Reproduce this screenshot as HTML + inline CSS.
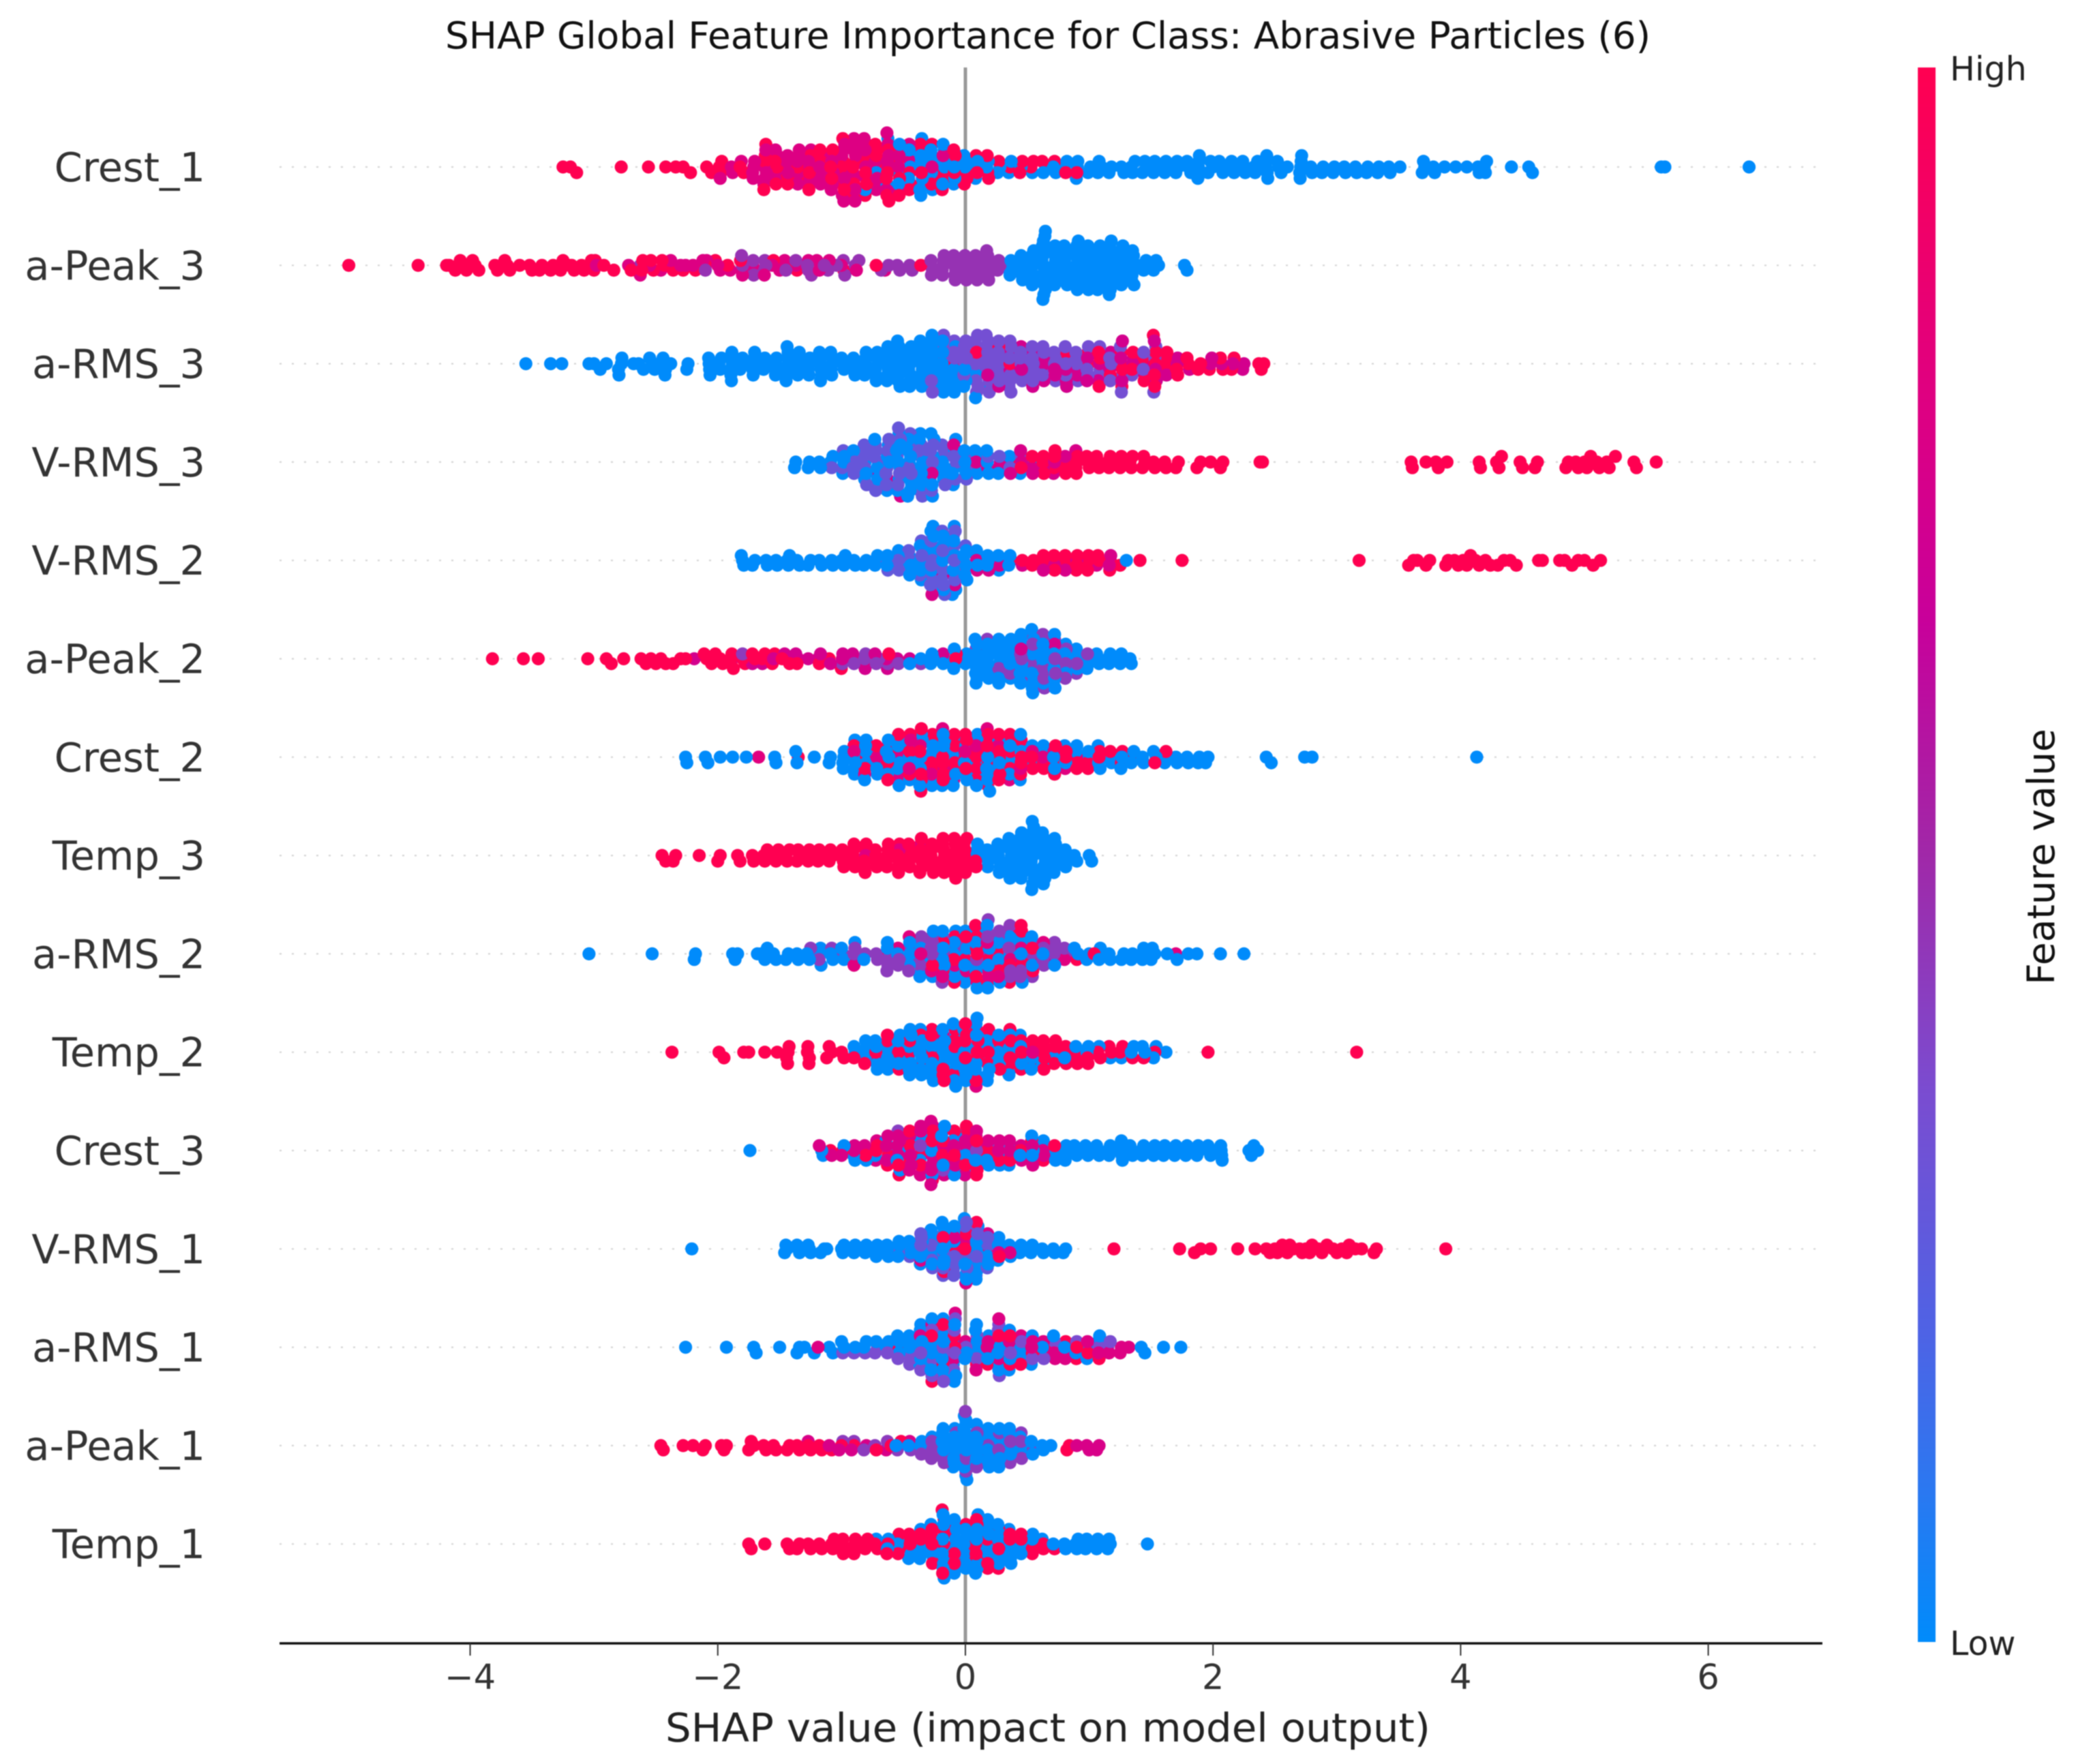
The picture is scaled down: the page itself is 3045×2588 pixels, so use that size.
<!DOCTYPE html>
<html lang="en">
<head>
<meta charset="utf-8">
<title>SHAP Global Feature Importance for Class: Abrasive Particles (6)</title>
<style>
html,body{margin:0;padding:0;background:#fff;width:3045px;height:2588px;overflow:hidden}
svg{display:block;filter:blur(0.9px)}
text{font-family:"DejaVu Sans","Liberation Sans",sans-serif}
</style>
</head>
<body>
<svg id="chart" xmlns="http://www.w3.org/2000/svg" width="3045" height="2588" viewBox="0 0 3045 2588">
  <rect width="3045" height="2588" fill="#fff"/>
  <defs>
    <linearGradient id="cbGrad" x1="0" y1="1" x2="0" y2="0"></linearGradient>
  </defs>
  <text x="1537" y="71" font-size="54" fill="#111" text-anchor="middle" textLength="1768" lengthAdjust="spacingAndGlyphs">SHAP Global Feature Importance for Class: Abrasive Particles (6)</text>
  <g id="rowLines"></g>
  <line x1="1416" y1="99" x2="1416" y2="2411" stroke="#999" stroke-width="5"/>
  <g id="dots"></g>
  <g id="yLabels"></g>
  <line x1="410" y1="2411" x2="2673" y2="2411" stroke="#111" stroke-width="3.5"/>
  <g id="xTicks"></g>
  <text x="1537" y="2555" font-size="58" fill="#222" text-anchor="middle" textLength="1122" lengthAdjust="spacingAndGlyphs">SHAP value (impact on model output)</text>
  <rect x="2813" y="99" width="26" height="2310" fill="url(#cbGrad)"/>
  <text x="2860" y="118" font-size="49" fill="#222">High</text>
  <text x="2860" y="2428" font-size="49" fill="#222">Low</text>
  <text transform="translate(3013,1257) rotate(-90)" font-size="55" fill="#111" text-anchor="middle">Feature value</text>
</svg>
<script>
const features=["Crest_1","a-Peak_3","a-RMS_3","V-RMS_3","V-RMS_2","a-Peak_2","Crest_2","Temp_3","a-RMS_2","Temp_2","Crest_3","V-RMS_1","a-RMS_1","a-Peak_1","Temp_1"];
const xTickValues=[-4,-2,0,2,4,6];
const colorStopValues=[0,.1,.2,.35,.5,.65,.8,.9,1];
const colorStopColors=["#008bfb","#2c77f0","#4f62e4","#7a4cd0","#a028a8","#c8009a","#e0007f","#f00068","#ff0051"];
const levels=[[1,.78,.45,0],[1,.78,.46,0],[1,.72,.33,0],[1,.75,.28,0],[1,.75,.27,0],[1,.72,.42,0],[1,.8,.45,0],[1,.8,.45,0],[1,.8,.42,0],[1,.8,.4,0],[1,.76,.4,0],[1,.78,.28,0],[1,.78,.35,0],[1,.75,.42,0],[1,.8,.4,0]];

const crest1High=[-3.25,-3.19,-3.14,-2.78,-2.56,-2.42,-2.34,-2.28,-2.22,-2.09,-2.05,-2,-1.97,-1.95,-1.82,-1.79,-1.64,-1.62,-1.61,-1.6,-1.55,-1.53,-1.51,-1.45,-1.43,-1.36,-1.34,-1.27,-1.26,-1.24,-1.18,-1.16,-1.15,-1.1,-1.08,-1.06,-1.02,-1,-.99,-.98,-.96,-.92,-.9,-.89,-.87,-.83,-.81,-.8,-.78,-.74,-.72,-.71,-.69,-.65,-.64,-.63,-.62,-.6,-.56,-.55,-.53,-.52,-.46,-.45,-.43,-.37,-.35,-.28,-.27,-.25,-.2,-.18,-.16,-.1,-.09,-.07,-.02,0,.03,.08,.1,.17,.18,.2,.27,.36,.44,.46,.53,.55,.62,.65,.72,.81,.9];
const crest1Upper=[-1.98,-1.89,-1.88,-1.81,-1.73,-1.72,-1.71,-1.69,-1.64,-1.63,-1.62,-1.6,-1.59,-1.55,-1.54,-1.53,-1.5,-1.46,-1.45,-1.43,-1.42,-1.37,-1.36,-1.35,-1.34,-1.33,-1.28,-1.27,-1.25,-1.24,-1.23,-1.19,-1.18,-1.17,-1.14,-1.1,-1.09,-1.08,-1.07,-1.05,-1.01,-1,-.99,-.98,-.97,-.96,-.95,-.92,-.91,-.9,-.89,-.88,-.88,-.87,-.86,-.83,-.82,-.81,-.8,-.79,-.78,-.74,-.73,-.72,-.7,-.65,-.64,-.63,-.62,-.61,-.6,-.56,-.54,-.53,-.46,-.44,-.36,-.27,-.18];
const crest1Lower=[];
const crest1Low=[-.81,-.72,-.64,-.62,-.55,-.54,-.52,-.47,-.46,-.44,-.43,-.38,-.37,-.36,-.36,-.35,-.35,-.34,-.33,-.29,-.28,-.27,-.26,-.25,-.19,-.18,-.17,-.16,-.15,-.11,-.1,-.09,-.08,-.03,-.01,.01,.07,.09,.11,.16,.19,.26,.28,.35,.37,.45,.54,.63,.71,.73,.8,.82,.89,.91,.92,.99,1.01,1.07,1.08,1.1,1.16,1.18,1.26,1.28,1.34,1.35,1.37,1.43,1.45,1.46,1.52,1.53,1.55,1.61,1.62,1.64,1.7,1.71,1.72,1.79,1.8,1.82,1.86,1.87,1.88,1.89,1.91,1.96,1.98,2,2.05,2.07,2.08,2.15,2.16,2.17,2.24,2.25,2.26,2.33,2.34,2.36,2.42,2.43,2.44,2.45,2.46,2.52,2.53,2.55,2.6,2.7,2.71,2.72,2.73,2.74,2.79,2.8,2.88,2.89,2.97,2.98,3.06,3.07,3.15,3.16,3.24,3.25,3.33,3.34,3.42,3.43,3.51,3.69,3.7,3.71,3.78,3.79,3.87,3.96,4.05,4.14,4.15,4.19,4.2,4.21,4.41,4.55,4.58,5.62,5.65,6.33];

const peak3High=[-4.98,-4.42,-4.19,-4.17,-4.12,-4.08,-4.05,-4.03,-3.98,-3.96,-3.93,-3.8,-3.78,-3.72,-3.7,-3.68,-3.6,-3.52,-3.5,-3.44,-3.42,-3.35,-3.33,-3.27,-3.25,-3.2,-3.18,-3.16,-3.1,-3.08,-3.02,-3,-2.99,-2.92,-2.84,-2.7,-2.62,-2.6,-2.54,-2.52,-2.45,-2.43,-2.36,-2.28,-2.18,-2.1,-2.02,-1.92,-1.84,-1.55,-1.45,-1.36,-.97,-.72,-.36];
const peak3Upper=[-2.98,-2.72,-2.65,-2.55,-2.46,-2.38,-2.3,-2.26,-2.2,-2.12,-2.09,-2,-1.98,-1.9,-1.82,-1.8,-1.73,-1.65,-1.63,-1.56,-1.5,-1.46,-1.37,-1.28,-1.2,-1.18,-1.1,-1.02,-.88,-.65];
const peak3Lower=[-2.65,-2.1,-1.82,-1.8,-1.72,-1.71,-1.7,-1.62,-1.6,-1.45,-1.37,-1.3,-1.28,-1.22,-1.14,-1.11,-1.04,-.98,-.95,-.89,-.86,-.68,-.62,-.55,-.53,-.45,-.43,-.3,-.29,-.28,-.26,-.2,-.19,-.18,-.17,-.16,-.11,-.1,-.09,-.08,-.07,-.06,-.02,-.01,0,.01,.02,.03,.07,.08,.09,.1,.11,.12,.16,.17,.18,.18,.19,.2,.21,.26,.27,.28];
const peak3Low=[.35,.36,.37,.38,.43,.44,.45,.46,.47,.48,.52,.53,.54,.54,.55,.55,.56,.57,.6,.61,.62,.62,.63,.63,.64,.64,.65,.65,.66,.66,.67,.67,.67,.7,.71,.71,.72,.72,.73,.73,.74,.75,.78,.79,.8,.8,.81,.81,.82,.83,.84,.87,.88,.89,.89,.9,.9,.91,.91,.92,.92,.93,.96,.97,.98,.98,.99,.99,1,1,1.01,1.02,1.05,1.06,1.07,1.07,1.08,1.08,1.09,1.09,1.1,1.11,1.14,1.15,1.15,1.16,1.16,1.17,1.17,1.18,1.18,1.19,1.19,1.2,1.23,1.24,1.25,1.25,1.26,1.26,1.27,1.28,1.29,1.32,1.33,1.34,1.34,1.35,1.36,1.37,1.38,1.42,1.44,1.46,1.52,1.54,1.56,1.77,1.79];

const rms3High=[-.09,.09,.27,.36,.81,.99,1,1.07,1.08,1.1,1.17,1.25,1.26,1.27,1.28,1.34,1.36,1.43,1.45,1.5,1.52,1.53,1.54,1.55,1.61,1.62,1.63,1.64,1.7,1.72,1.79,1.8,1.88,1.9,1.97,2.06,2.08,2.15,2.17,2.37,2.39,2.41];
const rms3Upper=[.18,.27,.36,.37,.45,.46,.54,.55,.63,.64,.65,.72,.73,.81,.82,.83,.9,.91,.97,.98,1.06,1.09,1.16,1.18,1.25,1.27,1.28,1.35,1.37,1.44,1.46,1.52,1.54,1.56,1.63,1.71,1.72,1.81,1.98,1.99,2.07,2.16,2.24,2.25];
const rms3Lower=[-.28,-.26,-.19,-.18,-.17,-.1,-.09,-.08,-.03,-.02,-.01,0,.01,.02,.06,.07,.08,.09,.09,.1,.11,.11,.12,.15,.16,.17,.18,.18,.19,.2,.21,.21,.25,.26,.27,.27,.28,.28,.29,.34,.35,.36,.36,.37,.38,.38,.43,.44,.45,.46,.47,.52,.53,.54,.54,.55,.56,.61,.62,.63,.64,.71,.72,.73,.74,.79,.8,.81,.81,.88,.89,.9,.92,.97,.99,1,1.07,1.09,1.1,1.16,1.17,1.19,1.24,1.26,1.28,1.34,1.43,1.44,1.51,1.53,1.55];
const rms3Low=[-3.55,-3.35,-3.26,-3.04,-3,-2.95,-2.9,-2.82,-2.81,-2.76,-2.75,-2.68,-2.64,-2.6,-2.55,-2.52,-2.51,-2.47,-2.46,-2.42,-2.41,-2.38,-2.25,-2.24,-2.08,-2.07,-2.06,-2.05,-1.99,-1.98,-1.97,-1.91,-1.9,-1.89,-1.89,-1.88,-1.87,-1.82,-1.8,-1.79,-1.73,-1.72,-1.71,-1.7,-1.69,-1.63,-1.62,-1.61,-1.55,-1.54,-1.53,-1.52,-1.46,-1.45,-1.44,-1.44,-1.43,-1.42,-1.41,-1.37,-1.36,-1.35,-1.34,-1.33,-1.28,-1.27,-1.26,-1.25,-1.19,-1.18,-1.17,-1.17,-1.16,-1.15,-1.1,-1.09,-1.08,-1.07,-1.06,-1,-.99,-.98,-.91,-.9,-.89,-.88,-.83,-.82,-.81,-.8,-.79,-.74,-.73,-.72,-.71,-.7,-.69,-.65,-.64,-.64,-.63,-.62,-.61,-.6,-.56,-.55,-.55,-.54,-.54,-.53,-.53,-.52,-.51,-.47,-.46,-.45,-.45,-.44,-.44,-.43,-.42,-.38,-.37,-.37,-.36,-.36,-.35,-.35,-.34,-.33,-.29,-.29,-.28,-.28,-.27,-.27,-.26,-.26,-.25,-.2,-.2,-.19,-.19,-.18,-.18,-.17,-.17,-.11,-.1,-.1,-.09,-.08,-.07,-.03,-.01,.01,.07,.08,.17];

const vrms3High=[.36,.45,.54,.62,.63,.64,.71,.72,.73,.8,.81,.82,.88,.89,.9,.91,.98,.99,1,1.06,1.07,1.08,1.15,1.16,1.17,1.24,1.25,1.26,1.33,1.34,1.35,1.43,1.44,1.45,1.52,1.53,1.61,1.62,1.7,1.72,1.87,1.9,1.98,2.06,2.08,2.38,2.4,3.6,3.61,3.72,3.8,3.82,3.89,4.15,4.16,4.29,4.31,4.33,4.48,4.5,4.6,4.62,4.85,4.87,4.93,4.95,5,5.02,5.05,5.1,5.12,5.18,5.2,5.25,5.4,5.42,5.58];
const vrms3Upper=[-.72,-.63,-.5,-.27,-.1,.08,.18,.27,.3,.37,.44,.46,.53,.55,.63,.7,.72,.8,.88];
const vrms3Lower=[-1.08,-1,-.98,-.92,-.9,-.89,-.84,-.83,-.82,-.8,-.78,-.76,-.74,-.73,-.72,-.71,-.68,-.66,-.65,-.64,-.62,-.6,-.57,-.55,-.54,-.52,-.5,-.47,-.45,-.44,-.42,-.4,-.38,-.36,-.35,-.33,-.3,-.28,-.26,-.24,-.2,-.18,-.16,-.14,-.1,-.07,-.05,0,.02,.09,.19,.28,.36,.45];
const vrms3Low=[-1.38,-1.37,-1.27,-1.26,-1.18,-1.17,-1.09,-1.07,-.99,-.97,-.96,-.91,-.88,-.82,-.81,-.79,-.75,-.7,-.69,-.64,-.63,-.61,-.59,-.58,-.56,-.55,-.53,-.53,-.51,-.5,-.49,-.48,-.47,-.46,-.45,-.44,-.43,-.41,-.39,-.38,-.37,-.37,-.35,-.34,-.32,-.31,-.29,-.27,-.27,-.26,-.25,-.23,-.19,-.18,-.17,-.15,-.13,-.11,-.09,-.08,-.06,-.03,-.02,-.01,.01,.06,.08,.1,.16,.17,.2,.26,.35,.43,.53];

const vrms2High=[.37,.46,.54,.55,.62,.63,.64,.71,.72,.73,.8,.81,.82,.89,.9,.91,.98,.99,1,1.07,1.08,1.16,1.17,1.25,1.41,1.75,3.18,3.58,3.62,3.65,3.72,3.75,3.88,3.9,3.95,3.98,4.02,4.05,4.08,4.12,4.15,4.2,4.24,4.3,4.35,4.4,4.45,4.63,4.66,4.8,4.84,4.9,4.95,5,5.07,5.13];
const vrms2Upper=[.1,.2,.28,.46,.63,.72,.8,.9,.99,1.06,1.15,1.18,-.27,-.18,-.08,.09];
const vrms2Lower=[-.72,-.62,-.55,-.53,-.47,-.44,-.38,-.35,-.34,-.3,-.28,-.27,-.25,-.22,-.21,-.2,-.18,-.17,-.15,-.12,-.11,-.09,-.08,-.07,-.04,-.02,0,-.19,-.29,-.26,-.1];
const vrms2Low=[-1.81,-1.8,-1.79,-1.72,-1.7,-1.61,-1.6,-1.53,-1.52,-1.44,-1.43,-1.42,-1.36,-1.34,-1.27,-1.25,-1.18,-1.16,-1.08,-1.07,-1,-.98,-.97,-.9,-.89,-.82,-.8,-.73,-.71,-.64,-.63,-.61,-.55,-.54,-.52,-.46,-.45,-.43,-.42,-.37,-.36,-.35,-.33,-.32,-.29,-.28,-.26,-.25,-.24,-.23,-.19,-.19,-.17,-.16,-.14,-.13,-.11,-.1,-.09,-.07,-.06,-.05,-.03,-.01,.01,.02,.03,.08,.09,.11,.17,.18,.19,.26,.27,.28,.35,.36,1.3,-.37,-.28,-.27,-.18,-.09];

const peak2High=[-3.82,-3.57,-3.45,-3.05,-2.9,-2.86,-2.76,-2.62,-2.58,-2.54,-2.5,-2.46,-2.42,-2.36,-2.3,-2.26,-2.11,-2.09,-2.05,-2.02,-1.98,-1.96,-1.9,-1.88,-1.85,-1.8,-1.78,-1.72,-1.7,-1.64,-1.62,-1.56,-1.54,-1.48,-1.42,-1.36,-1.18,-1.1,-1.02,-.9,-.6,-.06,-.05];
const peak2Upper=[-2.19,-1.9,-1.72,-1.64,-1.55,-1.46,-1.37,-1.35,-1.27,-1.19,-1.17,-1.09,-1,-.99,-.91,-.83,-.81,-.73,-.65,-.63,-.55,-.45,-.18,.45,.72];
const peak2Lower=[-1.8,-1,-.9,-.82,-.8,-.72,-.7,-.62,-.54,-.36,.08,.17,.27,.36,.44,.45,.53,.54,.55,.62,.63,.64,.65,.71,.72,.73,.74,.8,.81,.82,.89,.9,.98,.46,.54,.63,.72,.81];
const peak2Low=[-.45,-.36,-.28,-.27,-.26,-.18,-.17,-.1,-.09,-.07,0,.01,.02,.07,.08,.09,.1,.11,.16,.18,.18,.19,.2,.25,.26,.27,.28,.29,.3,.34,.35,.36,.37,.38,.43,.44,.46,.47,.52,.52,.53,.53,.54,.55,.55,.56,.57,.61,.62,.63,.63,.64,.7,.71,.72,.73,.79,.81,.88,.91,.97,.99,1,1.06,1.07,1.08,1.15,1.16,1.17,1.24,1.25,1.26,1.33,1.34,.06,.09,.1,.17,.19,.26,.28,.35,.37,.09,.18,.27,.36,.45,.46,.44,.54,.63,.62,.72,.71,.81,.8,.9,.89];

const crest2High=[-1.35,-.81,-.72,-.63,-.62,-.54,-.53,-.45,-.44,-.36,-.35,-.34,-.27,-.26,-.18,-.17,-.09,-.08,-.07,0,.01,.02,.09,.1,.18,.19,.2,.27,.28,.29,.36,.37,.45,.46,.53,.55,.63,.64,.72,.73,.74,.81,.82,.9,.91,.98,.99,1.08,1.09,1.17,1.26,1.28,1.35,1.53,1.62,-.38,-.35,-.36,-.28,-.26,-.62,.17,.19,.28,.36,.37,.45,.44,.27,.09,.08,0,-.09,-.18,-.19,-.45,-.54,-.81,-.9];
const crest2Upper=[-1.67,-.9,-.82,-.71,-.64,-.55,-.52,-.46,-.43,-.37,-.28,-.19,-.16,-.1,-.01,.08,.17,.21,.26,.35,.44,.54,.62,.71,.8,.89];
const crest2Lower=[];
const crest2Low=[-2.26,-2.25,-2.1,-2.08,-1.98,-1.88,-1.77,-1.54,-1.53,-1.37,-1.36,-1.22,-1.1,-1.09,-.99,-.98,-.97,-.96,-.91,-.89,-.88,-.87,-.8,-.79,-.78,-.73,-.7,-.65,-.61,-.6,-.56,-.53,-.51,-.47,-.45,-.42,-.38,-.36,-.33,-.29,-.28,-.25,-.2,-.18,-.15,-.11,-.09,-.06,-.02,0,.03,.07,.09,.11,.16,.18,.22,.25,.27,.34,.36,.43,.45,.52,.54,.61,.63,.7,.72,.79,.81,.88,.9,.97,1,1.06,1.07,1.1,1.16,1.18,1.25,1.27,1.34,1.36,1.43,1.44,1.52,1.54,1.61,1.63,1.7,1.71,1.79,1.8,1.88,1.89,1.94,1.96,2.43,2.47,2.74,2.8,4.13,-.37,-.35,-.27,-.26,-.63,.18,.2,.35,.36,.46,.44,.28,.1,.09,.01,-.08,-.1,-.17,-.18,-.46,-.55,-.53,-.72,-.71,-.82,-.8,-.89];

const temp3High=[-2.45,-2.42,-2.36,-2.34,-2.15,-2,-1.98,-1.84,-1.82,-1.72,-1.71,-1.63,-1.62,-1.6,-1.54,-1.53,-1.51,-1.45,-1.44,-1.42,-1.36,-1.35,-1.34,-1.27,-1.26,-1.25,-1.19,-1.18,-1.16,-1.1,-1.09,-1.07,-1,-.99,-.98,-.97,-.92,-.91,-.9,-.89,-.88,-.83,-.82,-.81,-.8,-.79,-.74,-.73,-.72,-.71,-.65,-.64,-.63,-.62,-.61,-.56,-.55,-.54,-.53,-.52,-.47,-.46,-.45,-.44,-.43,-.38,-.37,-.36,-.35,-.34,-.33,-.29,-.28,-.27,-.26,-.25,-.24,-.2,-.19,-.18,-.17,-.16,-.15,-.14,-.11,-.1,-.09,-.09,-.08,-.07,-.06,-.05,-.03,-.02,-.01,0,.01,.02,.03,.07,.08];
const temp3Upper=[-.8,-.53,-.36];
const temp3Lower=[];
const temp3Low=[.09,.1,.11,.16,.17,.18,.19,.25,.26,.27,.28,.29,.3,.34,.35,.36,.36,.37,.38,.39,.4,.43,.44,.44,.45,.45,.46,.46,.47,.48,.52,.52,.53,.53,.54,.54,.55,.55,.56,.56,.57,.57,.58,.61,.62,.62,.63,.63,.64,.64,.65,.66,.67,.7,.71,.71,.72,.72,.73,.74,.79,.8,.81,.82,.88,.9,1,1.02];

const rms2High=[-.63,-.26,-.18,-.1,-.08,-.09,0,.01,.07,.09,.18,.2,.27,.35,.36,.44,.46,.53,.55,.9,1.04,.08,.1,.28,-.18,.27,.36,.45,.54,.09];
const rms2Upper=[-.9,-.55,-.46,-.36,-.28,-.19,-.08,.02,.1,.19,.26,.37,.45,.63,.72,.8,1.7,.17,.2];
const rms2Lower=[-1.25,-1.2,-1.08,-.99,-.9,-.88,-.81,-.72,-.71,-.64,-.62,-.55,-.53,-.47,-.45,-.37,-.35,-.29,-.27,-.2,-.17,.16,.17,.25,.28,.34,.36,.43,.45,.52,.54,.62,.64,.71,.73,.8,.81,.18,.19,.09,.26,-.64,-.46,-.37,-.27,-.26,-.18,-.09,0,.36,.37,.44,.53,.63,.72];
const rms2Low=[-3.04,-2.53,-2.19,-2.18,-1.88,-1.86,-1.84,-1.68,-1.65,-1.62,-1.6,-1.55,-1.53,-1.45,-1.43,-1.36,-1.35,-1.28,-1.26,-1.19,-1.17,-1.16,-1.09,-1.07,-1,-.98,-.92,-.88,-.82,-.63,-.56,-.46,-.38,-.34,-.26,-.24,-.19,-.16,-.11,-.07,-.06,-.03,-.01,0,.03,.08,.1,.11,.17,.21,.26,.29,.35,.45,.47,.62,.72,.88,.91,.98,1,1.08,1.09,1.16,1.17,1.26,1.28,1.34,1.35,1.43,1.44,1.45,1.5,1.51,1.53,1.63,1.71,1.8,1.87,2.06,2.25,.18,.19,.07,.09,.27,0,-.01,-.63,-.45,-.44,-.36,-.35,-.27,-.18,-.19,-.09,-.08,.36,.35,.44,.45,.54,.53];

const temp2High=[-2.37,-1.99,-1.95,-1.79,-1.75,-1.62,-1.52,-1.45,-1.43,-1.42,-1.4,-1.3,-1.29,-1.27,-1.26,-1.12,-1.1,-1.08,-1,-.98,-.9,-.82,-.73,-.63,-.53,-.45,-.36,-.28,-.26,-.18,-.16,-.09,-.07,0,.02,.09,.11,.18,.2,.27,.29,.36,.38,.45,.47,.53,.55,.62,.63,.64,.65,.71,.72,.73,.74,.8,.81,.82,.89,.9,.91,.98,.99,1.07,1.09,1.16,1.18,1.25,1.27,1.35,1.44,1.53,1.96,3.16,.1,.12,.08,-.08,-.1,-.27,.19,-.63,-.54,-.45,-.36,-.28,-.18,0,-.01,.27,.36,.37,.45,.46,.54,.63];
const temp2Upper=[-.72,-.18,.08,.55];
const temp2Lower=[];
const temp2Low=[-.9,-.89,-.81,-.8,-.79,-.78,-.74,-.72,-.71,-.7,-.64,-.62,-.61,-.6,-.55,-.54,-.52,-.51,-.47,-.46,-.44,-.43,-.42,-.38,-.37,-.35,-.34,-.33,-.29,-.27,-.25,-.24,-.2,-.19,-.17,-.15,-.11,-.1,-.08,-.06,-.05,-.03,-.02,-.01,.01,.03,.07,.08,.1,.16,.17,.19,.21,.26,.28,.34,.35,.37,.43,.44,.46,.52,.54,.61,.7,.79,.88,.97,1,1.08,1.17,1.26,1.34,1.36,1.43,1.45,1.52,1.54,1.62,.09,.1,.08,.09,-.09,-.07,.18,-.63,-.54,-.45,-.46,-.36,-.37,-.27,-.28,-.18,-.17,-.09,0,.01,.27,.28,.36,.35,.18,.17];

const crest3High=[-1.09,-.99,-.8,-.72,-.7,-.63,-.61,-.54,-.45,-.44,-.36,-.34,-.28,-.26,-.19,-.17,-.09,-.08,0,.02,.09,.1,.18,.27,.36,.44,.63,.72,-.27,-.25,-.53,-.44,-.18,-.09,0,.09,.18,.53];
const crest3Upper=[-1.18,-1.08,-1,-.9,-.89,-.82,-.81,-.73,-.71,-.65,-.64,-.62,-.56,-.55,-.53,-.52,-.46,-.43,-.42,-.37,-.35,-.33,-.29,-.27,-.25,-.2,-.18,-.16,-.1,-.07,-.01,.01,.08,.11,.17,.19,.26,.28,.35,.37,.45,.46,.54,.55,.62,.64,-.29,-.26,-.28,-.36,-.54,-.45,-.36,-.18,-.09,-.1,0,.09,.36,.54];
const crest3Lower=[-.55,-.37,-.18,.09,.26];
const crest3Low=[-1.74,-1.16,-1.15,-.98,-.91,-.88,-.79,-.74,-.66,-.6,-.57,-.51,-.47,-.38,-.32,-.24,-.21,-.15,-.11,-.06,-.03,-.02,.03,.07,.16,.2,.25,.29,.34,.43,.53,.56,.61,.63,.71,.73,.74,.79,.8,.81,.82,.88,.89,.9,.97,.98,.99,1.06,1.07,1.08,1.15,1.16,1.17,1.24,1.25,1.26,1.27,1.28,1.33,1.34,1.35,1.42,1.43,1.44,1.51,1.52,1.53,1.6,1.61,1.62,1.69,1.7,1.71,1.78,1.79,1.8,1.87,1.88,1.89,1.96,1.97,1.98,2.05,2.06,2.07,2.08,2.29,2.31,2.33,2.36,-.27,-.28,-.45,-.36,-.27,-.18,-.09,0,.01,.09,.1,.36,.54];

const vrms1High=[-.27,-.18,-.16,-.09,.02,.09,.2,.28,1.2,1.73,1.85,1.9,1.98,2.2,2.34,2.43,2.46,2.5,2.52,2.56,2.6,2.62,2.65,2.7,2.72,2.75,2.78,2.8,2.85,2.88,2.92,2.97,3,3.04,3.08,3.1,3.15,3.2,3.3,3.32,3.88,-.01];
const vrms1Upper=[-.09,-.36,-.02,.1,.18,.27,.36,.01];
const vrms1Lower=[-.54,-.45,-.44,-.36,-.35,-.28,-.27,-.26,-.19,-.17,-.1,-.08,-.01,0,.01,.08,.09,.11,.17,.19,.26,.27,.36,.02,-.03,.03,-.11,.1,.08,-.18,-.09,-.18,-.17,-.09,-.27,.09,.18,-.36];
const vrms1Low=[-2.21,-1.46,-1.45,-1.44,-1.36,-1.35,-1.34,-1.27,-1.26,-1.25,-1.17,-1.14,-1.12,-1,-.99,-.98,-.91,-.9,-.89,-.82,-.81,-.8,-.73,-.72,-.71,-.7,-.64,-.63,-.62,-.61,-.56,-.55,-.53,-.52,-.46,-.43,-.42,-.37,-.34,-.33,-.29,-.25,-.24,-.2,-.16,-.15,-.14,-.11,-.07,-.06,-.03,-.02,.02,.03,.07,.1,.12,.16,.2,.25,.26,.35,.37,.44,.45,.46,.53,.54,.55,.62,.63,.71,.72,.79,.81,0,.01,-.01,.02,.09,.1,.08,-.08,-.1,-.19,.18,-.27,-.28,-.26,-.18,-.19,-.17,-.09,-.1,.09,.1,.18,.19,-.36,-.37,.27];

const rms1High=[-.54,-.28,-.18,-.08,.09,.18,.26,.36,.44,.54,.62,.72,.81,.89,.9,.99,1.08,-.09,-.18,-.27,.27,.36];
const rms1Upper=[-1.19,-.37,-.27,-.1,0,.08,.17,.19,.27,.35,.45,.53,.55,.63,.71,.73,.8,.82,.98,1.07,1.16,1.25,1.26,1.32,-.07,.27];
const rms1Lower=[-.99,-.9,-.81,-.73,-.71,-.63,-.55,-.45,-.43,-.36,-.26,-.19,-.17,-.09,-.07,.01,.1,.28,.37,.46,.64,.72,.9,1.08,1.15,1.17,-.08,-.1,-.27,-.18,.26,-.45,-.36,-.27,-.18,.09,.27,.36,.54];
const rms1Low=[-2.26,-1.93,-1.71,-1.69,-1.5,-1.36,-1.34,-1.3,-1.22,-1.1,-1.07,-1,-.98,-.89,-.82,-.8,-.72,-.64,-.62,-.56,-.53,-.52,-.46,-.44,-.38,-.35,-.34,-.29,-.25,-.2,-.16,-.11,-.06,-.01,.02,.07,.11,.16,.2,.25,.29,.34,.43,.47,.52,.61,.7,.79,.88,.97,1,1.06,1.09,1.42,1.45,1.6,1.74,-.09,-.1,-.08,-.27,-.26,-.18,-.36,.09,.18,-.45,-.36,-.37,-.27,-.28,-.18,-.17,-.19,.09,.1,.27,.28,.36,.35,.45,.54];

const peak1High=[-2.46,-2.44,-2.28,-2.2,-2.12,-2.1,-1.97,-1.95,-1.93,-1.75,-1.73,-1.71,-1.63,-1.61,-1.55,-1.53,-1.44,-1.42,-1.36,-1.34,-1.27,-1.25,-1.18,-1.16,-1.08,-1,-.9,-.72,-.6,-.52,.82,.84];
const peak1Upper=[-1.27,-1.1,-1.02,-.92,-.8,-.64,-.45,.53,.9,.98,1,1.06,1.08];
const peak1Lower=[-.99,-.9,-.82,-.73,-.63,-.55,-.44,-.37,-.35,-.28,-.26,-.18,-.16,-.1,-.05,0,.02,.1,.19,.28,.36,.37,.45,.46,.54,.01,-.01,.18,.09,.27,-.27,-.18,0,.36,.45];
const peak1Low=[-.56,-.46,-.36,-.34,-.27,-.25,-.2,-.19,-.17,-.15,-.11,-.09,-.08,-.07,-.03,-.02,-.01,.01,.03,.04,.07,.08,.09,.11,.12,.16,.17,.18,.2,.21,.25,.26,.27,.29,.34,.35,.38,.43,.44,.52,.55,.62,.63,.69,0,.01,.02,-.02,.19,.18,.17,.09,.1,.08,-.09,-.1,.28,.26,-.27,-.18,-.17,-.09,-.08,0,.01,.36,.37,.35,.45,.46,.27,.28,.09];

const temp1High=[-1.75,-1.73,-1.62,-1.44,-1.42,-1.36,-1.34,-1.27,-1.25,-1.18,-1.16,-1.08,-1.07,-1.06,-1,-.99,-.98,-.97,-.91,-.9,-.88,-.87,-.82,-.81,-.79,-.73,-.71,-.64,-.62,-.55,-.53,-.52,-.46,-.44,-.43,-.37,-.35,-.28,-.26,-.25,-.19,-.17,-.1,-.08,-.07,-.01,.01,.08,.1,.18,.17,.27,.28,.36,.45,.54,.63,.72,-.18,-.16,-.2,-.09,.09,.07,.19,.26,-.27,-.36,-.27,-.18,-.09,0,.09,.18,.27,.36,.45,.54,.63];
const temp1Upper=[];
const temp1Lower=[];
const temp1Low=[-.72,-.63,-.61,-.56,-.54,-.47,-.45,-.42,-.38,-.36,-.34,-.29,-.27,-.24,-.2,-.18,-.16,-.15,-.11,-.09,-.06,-.05,-.03,-.02,0,.02,.03,.07,.09,.11,.12,.16,.19,.2,.21,.25,.26,.29,.34,.35,.37,.38,.44,.46,.52,.55,.62,.71,.8,.81,.89,.9,.91,.97,.98,.99,1.06,1.07,1.08,1.15,1.16,1.17,1.47,-.19,-.17,-.1,.08,.1,.18,.27,.28,-.36,-.27,-.18,-.19,-.17,-.09,-.08,0,.01,.09,.1,.18,.19,.27,.36,.37,.45,.54];

const series=[
[crest1High,crest1Upper,crest1Lower,crest1Low],[peak3High,peak3Upper,peak3Lower,peak3Low],
[rms3High,rms3Upper,rms3Lower,rms3Low],[vrms3High,vrms3Upper,vrms3Lower,vrms3Low],
[vrms2High,vrms2Upper,vrms2Lower,vrms2Low],[peak2High,peak2Upper,peak2Lower,peak2Low],
[crest2High,crest2Upper,crest2Lower,crest2Low],[temp3High,temp3Upper,temp3Lower,temp3Low],
[rms2High,rms2Upper,rms2Lower,rms2Low],[temp2High,temp2Upper,temp2Lower,temp2Low],
[crest3High,crest3Upper,crest3Lower,crest3Low],[vrms1High,vrms1Upper,vrms1Lower,vrms1Low],
[rms1High,rms1Upper,rms1Lower,rms1Low],[peak1High,peak1Upper,peak1Lower,peak1Low],
[temp1High,temp1Upper,temp1Lower,temp1Low]];

const NS="http://www.w3.org/2000/svg";
const xScale=v=>1416+v*181.6;
const yScale=i=>245+i*144.3;
const BIN=0.09, MAX_SPREAD=50, DOT_R=9.6, DENSE_BIN=4, SNAP=0.6;

function hexToRgb(h){return [1,3,5].map(k=>parseInt(h.substr(k,2),16));}
function featureColor(t){
  let k=0;
  while(k<colorStopValues.length-2&&t>colorStopValues[k+1])k++;
  const f=(t-colorStopValues[k])/(colorStopValues[k+1]-colorStopValues[k]);
  const a=hexToRgb(colorStopColors[k]),b=hexToRgb(colorStopColors[k+1]);
  return "rgb("+a.map((c,j)=>Math.round(c+(b[j]-c)*f)).join(",")+")";
}
const grad=document.getElementById("cbGrad");
colorStopValues.forEach((s,i)=>{
  const st=document.createElementNS(NS,"stop");
  st.setAttribute("offset",s);
  st.setAttribute("stop-color",colorStopColors[i]);
  grad.appendChild(st);
});

const rowLines=document.getElementById("rowLines");
const yLabels=document.getElementById("yLabels");
const dotsG=document.getElementById("dots");
const xTicks=document.getElementById("xTicks");

features.forEach((name,i)=>{
  const y=yScale(i);
  const ln=document.createElementNS(NS,"line");
  
  
  ln.setAttribute("x1",410);ln.setAttribute("x2",2672);
  ln.setAttribute("y1",y);ln.setAttribute("y2",y);
  ln.setAttribute("stroke","#d4d4d4");ln.setAttribute("stroke-width",2.2);
  ln.setAttribute("stroke-dasharray","3 15");
  rowLines.appendChild(ln);
  const tx=document.createElementNS(NS,"text");
  
  
  tx.setAttribute("x",301);tx.setAttribute("y",y+21);
  tx.setAttribute("font-size",59);tx.setAttribute("fill","#333");
  tx.setAttribute("text-anchor","end");
  tx.textContent=name;
  yLabels.appendChild(tx);

  const pts=[];
  series[i].forEach((arr,g)=>arr.forEach(v=>pts.push({v:v,t:levels[i][g]})));
  const binCount={};
  pts.forEach((p,k)=>{
    p.h=(k*37)%101;p.d=(k*7919)%1009;p.b=Math.round(p.v/BIN);
    binCount[p.b]=(binCount[p.b]||0)+1;
  });
  const stacked=pts.slice().sort((a,b)=>a.b-b.b||a.h-b.h);
  let layer=0,last=null,maxLayer=1;
  stacked.forEach(p=>{
    if(p.b!==last){layer=0;last=p.b;}
    p.l=Math.ceil(layer/2)*((layer%2)*2-1);
    maxLayer=Math.max(maxLayer,Math.abs(p.l));
    layer++;
  });
  const step=MAX_SPREAD/maxLayer;
  const rowG=document.createElementNS(NS,"g");
  
  
  pts.slice().sort((a,b)=>a.d-b.d).forEach(p=>{
    const pull=binCount[p.b]>=DENSE_BIN?SNAP:0;
    const shown=p.v*(1-pull)+p.b*BIN*pull;
    const c=document.createElementNS(NS,"circle");
    
    
    c.setAttribute("cx",xScale(shown).toFixed(1));
    c.setAttribute("cy",(y+p.l*step).toFixed(1));
    c.setAttribute("r",DOT_R);
    c.setAttribute("fill",featureColor(p.t));
    rowG.appendChild(c);
  });
  dotsG.appendChild(rowG);
});

xTickValues.forEach(v=>{
  const x=xScale(v);
  const t=document.createElementNS(NS,"line");
  
  
  t.setAttribute("x1",x);t.setAttribute("x2",x);
  t.setAttribute("y1",2411);t.setAttribute("y2",2429);
  t.setAttribute("stroke","#333");t.setAttribute("stroke-width",2);
  xTicks.appendChild(t);
  const l=document.createElementNS(NS,"text");
  
  
  l.setAttribute("x",x);l.setAttribute("y",2478);
  l.setAttribute("font-size",51);l.setAttribute("fill","#333");
  l.setAttribute("text-anchor","middle");
  l.textContent=(v<0?"\u2212":"")+Math.abs(v);
  xTicks.appendChild(l);
});
</script>
</body>
</html>
